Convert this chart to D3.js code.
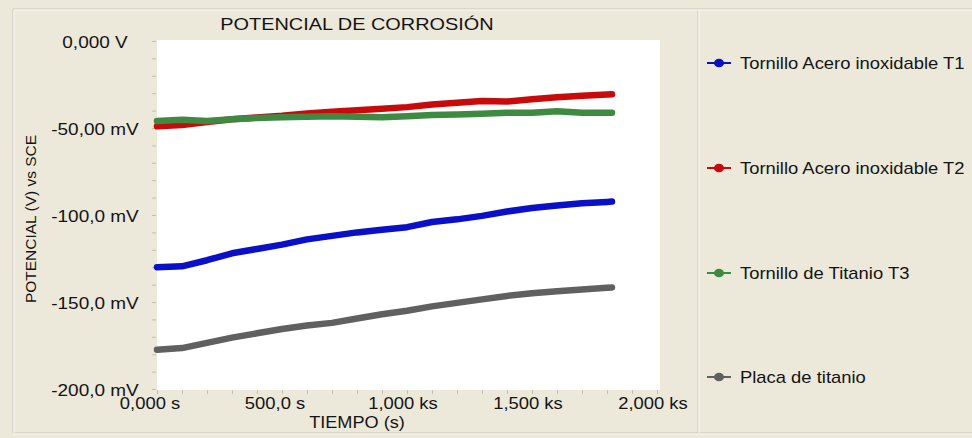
<!DOCTYPE html>
<html>
<head>
<meta charset="utf-8">
<script src="https://cdn.jsdelivr.net/npm/d3@7"></script>
<style>
  html, body { margin: 0; padding: 0; background: #ece8da; }
  svg { display: block; font-family: "Liberation Sans", Arial, sans-serif; }
</style>
</head>
<body>
<div id="chart"></div>
<script>
// time in seconds
const times = [0, 100, 200, 300, 400, 500, 600, 700, 800, 900, 1000, 1100, 1200, 1300, 1400, 1500, 1600, 1700, 1800, 1820];

// potential in mV vs SCE
const t1 = [-130, -129.5, -126, -122, -119.5, -117, -114, -112, -110, -108.5, -107, -104, -102.5, -100.5, -98, -96, -94.5, -93.3, -92.5, -92.3];
const t2 = [-49, -48.3, -46.5, -45, -44, -43, -41.6, -40.7, -39.8, -39, -38, -36.5, -35.5, -34.5, -34.8, -33.5, -32.3, -31.5, -30.8, -30.6];
const t3 = [-46, -45.2, -46, -45, -44.2, -43.8, -43.5, -43.2, -43.6, -43.8, -43.2, -42.5, -42.2, -41.8, -41.3, -41.2, -40.4, -41.2, -41.2, -41.2];
const placa = [-177.5, -176.5, -173.5, -170.5, -168, -165.5, -163.5, -162, -159.5, -157, -155, -152.5, -150.5, -148.5, -146.5, -145, -143.8, -142.8, -141.8, -141.6];

const seriesNames = ['Tornillo Acero inoxidable T1', 'Tornillo Acero inoxidable T2', 'Tornillo de Titanio T3', 'Placa de titanio'];
const seriesColors = ['#0a0fc8', '#c80a0a', '#3f8a42', '#606060'];

const xTicks = [0, 500, 1000, 1500, 2000];
const xTickLabels = ['0,000 s', '500,0 s', '1,000 ks', '1,500 ks', '2,000 ks'];
const yTicks = [0, -50, -100, -150, -200];
const yTickLabels = ['0,000 V', '-50,00 mV', '-100,0 mV', '-150,0 mV', '-200,0 mV'];

const width = 972;
const height = 438;
const plot = { left: 157, right: 657, top: 41, bottom: 389 };
const stretch = 1.15; // text in the picture is a bit wide

const x = d3.scaleLinear().domain([0, 2000]).range([plot.left, plot.right]);
const y = d3.scaleLinear().domain([-200, 0]).range([plot.bottom, plot.top]);

const svg = d3.select('#chart').append('svg')
  .attr('width', width)
  .attr('height', height);

svg.append('rect').attr('width', width).attr('height', height).attr('fill', '#ece8da');

// etched frame + legend separator
const frame = svg.append('g').attr('fill', 'none');
frame.append('path').attr('d', 'M13,433 V9 H972 M698,9 V433 M13,433 H972').attr('stroke', '#cdc9b6');
frame.append('path').attr('d', 'M14,433 V10 H972 M699,10 V433 M13,434 H972').attr('stroke', '#fbfaf5');

// white plot area
svg.append('rect')
  .attr('x', plot.left)
  .attr('y', plot.top - 1)
  .attr('width', 660 - plot.left)
  .attr('height', plot.bottom - plot.top + 2)
  .attr('fill', '#ffffff');

// little helper for horizontally stretched labels
const label = (g, tx, ty, s, size, anchor, sx) => g.append('text')
  .attr('transform', `translate(${tx},${ty}) scale(${sx},1)`)
  .attr('text-anchor', anchor)
  .style('font-size', size + 'px')
  .attr('fill', '#141414')
  .text(s);

// minor ticks on both axes
const yAxis = d3.axisLeft(y).tickValues(d3.range(-200, 1, 10)).tickSize(4).tickFormat('');
const xAxis = d3.axisBottom(x).tickValues(d3.range(0, 2001, 100)).tickSize(4).tickFormat('');

svg.append('g')
  .attr('transform', `translate(${plot.left - 1},0)`)
  .call(yAxis)
  .call(g => g.select('.domain').remove())
  .call(g => g.selectAll('line').attr('stroke', '#c4c0b0'));

svg.append('g')
  .attr('transform', `translate(0,${plot.bottom + 1})`)
  .call(xAxis)
  .call(g => g.select('.domain').remove())
  .call(g => g.selectAll('line').attr('stroke', '#c4c0b0'));

// tick labels
const axisText = svg.append('g');
yTicks.forEach((v, i) => label(axisText, 95, y(v) + 7, yTickLabels[i], 16.5, 'middle', stretch));
xTicks.forEach((v, i) => label(axisText, x(v) - (i < 2 ? 7 : 4), 409, xTickLabels[i], 16, 'middle', stretch));

// titles
label(svg, 357, 30, 'POTENCIAL DE CORROSIÓN', 17, 'middle', 1.17);
label(svg, 357, 428, 'TIEMPO (s)', 16.5, 'middle', 1.1);
svg.append('text')
  .attr('transform', 'translate(36,219) rotate(-90)')
  .attr('text-anchor', 'middle')
  .style('font-size', '15.5px')
  .attr('fill', '#141414')
  .text('POTENCIAL (V) vs SCE');

// series lines
const data = [t1, t2, t3, placa].map((vals, i) => ({
  name: seriesNames[i],
  color: seriesColors[i],
  points: times.map((t, j) => [t, vals[j]])
}));

const line = d3.line().x(d => x(d[0])).y(d => y(d[1]));

// draw grey first, green last so it sits on top of red at the start
const drawOrder = [3, 0, 1, 2];
svg.append('g')
  .selectAll('path')
  .data(drawOrder.map(i => data[i]))
  .join('path')
  .attr('d', d => line(d.points))
  .attr('fill', 'none')
  .attr('stroke', d => d.color)
  .attr('stroke-width', 6.5)
  .attr('stroke-linecap', 'round')
  .attr('stroke-linejoin', 'round');

// legend
const legendY = [63, 168, 273, 377];
const legend = svg.append('g')
  .selectAll('g')
  .data(data)
  .join('g')
  .attr('transform', (d, i) => `translate(0,${legendY[i]})`);

legend.append('line')
  .attr('x1', 707).attr('x2', 731)
  .attr('stroke', d => d.color)
  .attr('stroke-width', 2);

legend.append('ellipse')
  .attr('cx', 719)
  .attr('rx', 5)
  .attr('ry', 4.3)
  .attr('fill', d => d.color);

legend.each(function (d) {
  label(d3.select(this), 740, 5.5, d.name, 16, 'start', stretch);
});
</script>
</body>
</html>
